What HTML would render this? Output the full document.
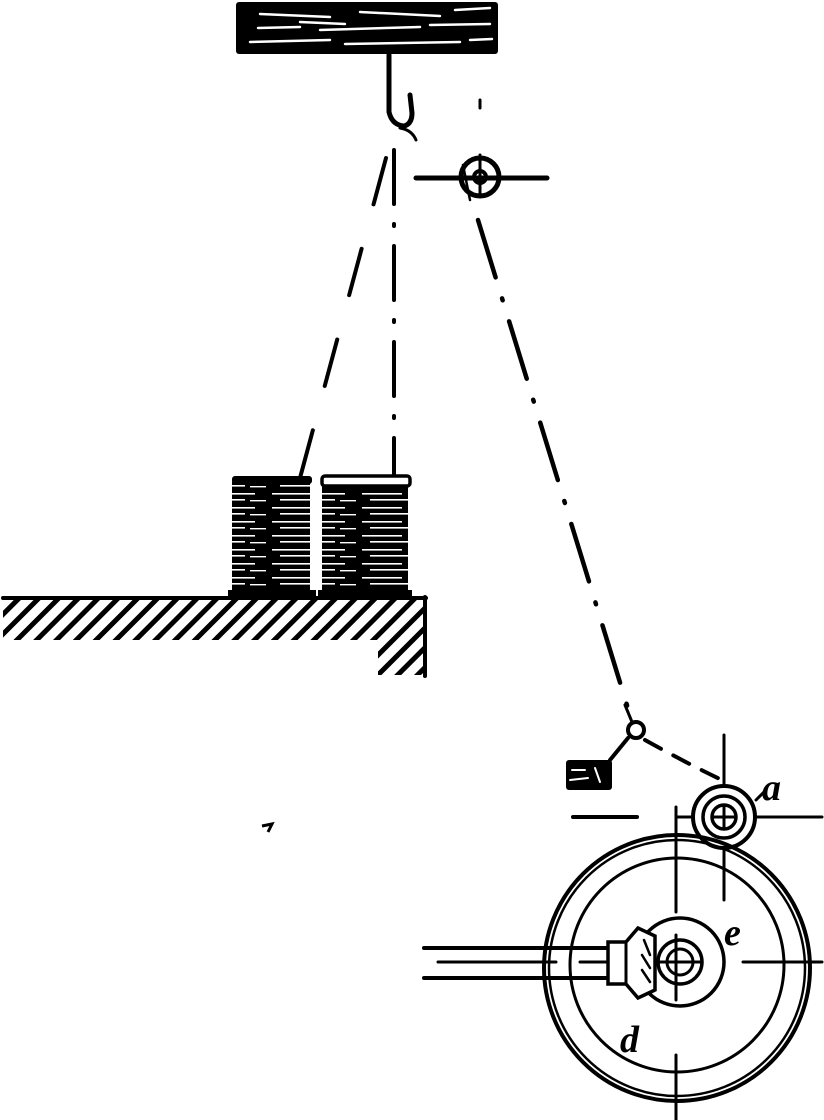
<!DOCTYPE html>
<html><head><style>html,body{margin:0;padding:0;background:#fff}svg{display:block}</style></head>
<body>
<svg width="824" height="1120" viewBox="0 0 824 1120" xmlns="http://www.w3.org/2000/svg">
<defs>
<pattern id="hatch" width="14" height="14" patternUnits="userSpaceOnUse" patternTransform="rotate(45)">
<rect width="14" height="14" fill="#fff"/><rect width="5" height="14" fill="#000"/>
</pattern>
<pattern id="thread" width="90" height="14" patternUnits="userSpaceOnUse">
<rect width="90" height="14" fill="#000"/>
<rect x="2" y="3" width="40" height="1.6" fill="#fff"/><rect x="50" y="3" width="25" height="1.6" fill="#fff"/>
<rect x="10" y="9" width="55" height="1.6" fill="#fff"/><rect x="70" y="10" width="16" height="1.4" fill="#fff"/>
</pattern>
</defs>
<g stroke="#000" fill="none" stroke-linecap="round">
<!-- board -->
<rect x="236" y="2" width="262" height="52" rx="3" fill="#000" stroke="none"/>
<g stroke="#fff" stroke-width="2.5">
<path d="M260 14 L330 17 M360 12 L440 16 M455 10 L490 8 M258 28 L300 27 M320 30 L420 27 M430 25 L490 24 M250 42 L330 40 M345 44 L460 42 M470 40 L492 39 M300 22 L345 24"/>
</g>
<!-- hook -->
<path d="M389 55 L389 112 Q392 125 404 126 Q412 124 412 113 L410 95" stroke-width="5"/>
<path d="M400 128 Q412 130 416 140" stroke-width="3"/>
<line x1="480" y1="100" x2="480" y2="108" stroke-width="3"/>
<!-- guide eye -->
<line x1="416" y1="178" x2="547" y2="178" stroke-width="5"/>
<circle cx="480" cy="177" r="19" stroke-width="5"/>
<circle cx="480" cy="177" r="6" stroke-width="4"/>
<line x1="480" y1="155" x2="480" y2="195" stroke-width="3"/>
<line x1="463" y1="165" x2="470" y2="200" stroke-width="2.5"/>
<!-- threads -->
<path d="M386 158 L300 478" stroke-width="4" stroke-dasharray="48 46"/>
<path d="M394 150 L394 478" stroke-width="4" stroke-dasharray="54 20 2 20"/>
<path d="M478 220 L630 715" stroke-width="4.5" stroke-dasharray="60 22 2 22"/>
<path d="M645 740 Q690 765 722 780" stroke-width="4" stroke-dasharray="18 14"/>
<!-- spools -->
<rect x="232" y="482" width="78" height="115" fill="url(#thread)" stroke="none"/>
<rect x="232" y="476" width="80" height="8" rx="3" fill="#000" stroke="none"/>
<rect x="322" y="482" width="86" height="115" fill="url(#thread)" stroke="none"/>
<rect x="322" y="476" width="88" height="10" rx="3" stroke-width="3.5" fill="#fff"/>
<rect x="228" y="590" width="88" height="8" fill="#000" stroke="none"/>
<rect x="318" y="590" width="94" height="8" fill="#000" stroke="none"/>
<!-- table -->
<path d="M3 597 L425 597 L425 675 L378 675 L378 640 L3 640 Z" fill="url(#hatch)" stroke="none"/>
<line x1="3" y1="598" x2="426" y2="598" stroke-width="4"/>
<line x1="425" y1="597" x2="425" y2="676" stroke-width="4"/>
<!-- b -->
<circle cx="636" cy="730" r="8" stroke-width="4"/>
<path d="M625 705 L632 722" stroke-width="3"/>
<line x1="610" y1="760" x2="628" y2="738" stroke-width="4"/>
<rect x="566" y="760" width="46" height="30" rx="3" fill="#000" stroke="none"/>
<path d="M572 770 L585 770 M570 780 L588 778 M595 768 L600 782" stroke="#fff" stroke-width="2"/>
<line x1="573" y1="817" x2="637" y2="817" stroke-width="4"/>
<!-- a roller -->
<line x1="724" y1="735" x2="724" y2="900" stroke-width="3"/>
<line x1="676" y1="817" x2="822" y2="817" stroke-width="3"/>
<line x1="676" y1="807" x2="676" y2="912" stroke-width="3"/>
<circle cx="724" cy="817" r="31" stroke-width="4" fill="#fff"/>
<circle cx="724" cy="817" r="21" stroke-width="3.5"/>
<circle cx="724" cy="817" r="12" stroke-width="3.5"/>
<line x1="712" y1="817" x2="736" y2="817" stroke-width="3"/>
<line x1="724" y1="805" x2="724" y2="829" stroke-width="3"/>
<line x1="756" y1="800" x2="765" y2="791" stroke-width="3"/>
<!-- big wheel -->
<circle cx="677" cy="968" r="133" stroke-width="4"/>
<circle cx="677" cy="968" r="128" stroke-width="2.5"/>
<circle cx="677" cy="965" r="107" stroke-width="3"/>
<line x1="676" y1="1055" x2="676" y2="1120" stroke-width="3"/>
<line x1="743" y1="962" x2="822" y2="962" stroke-width="3"/>
<!-- shaft -->
<line x1="424" y1="948" x2="612" y2="948" stroke-width="4"/>
<line x1="424" y1="978" x2="612" y2="978" stroke-width="4"/>
<line x1="438" y1="962" x2="556" y2="962" stroke-width="3"/>
<line x1="580" y1="962" x2="610" y2="962" stroke-width="3"/>
<!-- hub -->
<circle cx="680" cy="962" r="44" stroke-width="3.5" fill="#fff"/>
<circle cx="680" cy="962" r="22" stroke-width="3.5"/>
<circle cx="680" cy="962" r="13" stroke-width="3"/>
<line x1="660" y1="962" x2="702" y2="962" stroke-width="3"/>
<line x1="676" y1="935" x2="676" y2="1000" stroke-width="3"/>
<!-- bevel gear -->
<path d="M608 942 L626 942 L638 928 L655 936 L655 990 L638 998 L626 984 L608 984 Z" fill="#fff" stroke-width="3.5"/>
<line x1="626" y1="942" x2="626" y2="984" stroke-width="3"/>
<path d="M644 940 L650 955 M642 955 L650 968 M642 970 L650 982" stroke-width="2.5"/>
</g>
<g font-family="Liberation Serif, serif" font-style="italic" font-weight="bold" fill="#000">
<text x="762" y="800" font-size="38">a</text>
<text x="724" y="945" font-size="38">e</text>
<text x="620" y="1052" font-size="38">d</text>
</g>
<path d="M262 826 L272 824 L268 832" stroke="#000" stroke-width="3" fill="none"/>
</svg>
</body></html>
